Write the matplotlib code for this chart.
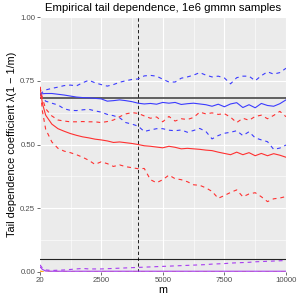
import matplotlib
matplotlib.use("Agg")
import matplotlib.pyplot as plt

plt.rcParams['font.family'] = ['Liberation Sans', 'DejaVu Sans']

m = [20, 120, 250, 500, 750, 1000, 1250, 1500, 1750, 2000, 2250, 2500, 2750, 3000,
     3250, 3500, 3750, 4000, 4250, 4500, 4750, 5000, 5250, 5500, 5750, 6000, 6250,
     6500, 6750, 7000, 7250, 7500, 7750, 8000, 8250, 8500, 8750, 9000, 9250, 9500,
     9750, 10000]

blue_upper = [0.697, 0.705, 0.714, 0.720, 0.725, 0.731, 0.733, 0.730, 0.742, 0.752,
              0.742, 0.735, 0.729, 0.735, 0.744, 0.750, 0.755, 0.757, 0.769, 0.771,
              0.768, 0.756, 0.745, 0.745, 0.760, 0.765, 0.772, 0.782, 0.772, 0.765,
              0.768, 0.761, 0.738, 0.762, 0.768, 0.768, 0.750, 0.770, 0.785, 0.776,
              0.782, 0.799]
blue_mid = [0.697, 0.699, 0.700, 0.700, 0.697, 0.694, 0.690, 0.686, 0.684, 0.683,
            0.681, 0.679, 0.670, 0.672, 0.675, 0.672, 0.668, 0.662, 0.659, 0.661,
            0.658, 0.665, 0.662, 0.665, 0.657, 0.660, 0.662, 0.659, 0.656, 0.650,
            0.658, 0.648, 0.659, 0.664, 0.645, 0.656, 0.644, 0.661, 0.653, 0.650,
            0.660, 0.675]
blue_lower = [0.697, 0.685, 0.670, 0.662, 0.655, 0.640, 0.634, 0.633, 0.636, 0.638,
              0.632, 0.627, 0.618, 0.613, 0.605, 0.586, 0.580, 0.572, 0.551, 0.557,
              0.562, 0.562, 0.556, 0.554, 0.557, 0.548, 0.555, 0.563, 0.551, 0.522,
              0.535, 0.544, 0.548, 0.554, 0.535, 0.550, 0.526, 0.518, 0.511, 0.481,
              0.486, 0.498]
red_upper = [0.725, 0.680, 0.640, 0.612, 0.596, 0.592, 0.589, 0.589, 0.590, 0.589,
             0.589, 0.586, 0.590, 0.596, 0.609, 0.620, 0.625, 0.622, 0.612, 0.603,
             0.608, 0.589, 0.610, 0.592, 0.601, 0.598, 0.606, 0.627, 0.620, 0.624,
             0.618, 0.621, 0.607, 0.586, 0.603, 0.595, 0.610, 0.615, 0.601, 0.614,
             0.630, 0.609]
red_mid = [0.725, 0.660, 0.615, 0.580, 0.562, 0.552, 0.543, 0.536, 0.530, 0.526,
           0.521, 0.518, 0.514, 0.508, 0.510, 0.507, 0.504, 0.500, 0.495, 0.493,
           0.490, 0.487, 0.493, 0.489, 0.483, 0.485, 0.483, 0.481, 0.478, 0.476,
           0.470, 0.465, 0.460, 0.470, 0.460, 0.468, 0.456, 0.465, 0.456, 0.464,
           0.458, 0.450]
red_lower = [0.725, 0.630, 0.560, 0.510, 0.485, 0.474, 0.468, 0.460, 0.450, 0.438,
             0.422, 0.432, 0.425, 0.414, 0.420, 0.413, 0.409, 0.405, 0.406, 0.362,
             0.350, 0.362, 0.380, 0.366, 0.362, 0.354, 0.342, 0.340, 0.330, 0.316,
             0.289, 0.300, 0.312, 0.322, 0.295, 0.306, 0.311, 0.295, 0.276, 0.287,
             0.290, 0.296]
purple_upper = [0.028, 0.015, 0.008, 0.006, 0.007, 0.008, 0.010, 0.012, 0.014, 0.012,
                0.012, 0.012, 0.013, 0.014, 0.015, 0.016, 0.017, 0.018, 0.019, 0.020,
                0.021, 0.022, 0.023, 0.024, 0.025, 0.026, 0.027, 0.028, 0.029, 0.031,
                0.032, 0.033, 0.035, 0.036, 0.037, 0.038, 0.040, 0.041, 0.042, 0.043,
                0.044, 0.045]
purple_mid = [0.020, 0.010, 0.004, 0.003, 0.003, 0.003, 0.003, 0.003, 0.003, 0.003,
              0.003, 0.003, 0.003, 0.003, 0.003, 0.003, 0.003, 0.003, 0.003, 0.003,
              0.003, 0.003, 0.003, 0.003, 0.003, 0.003, 0.003, 0.003, 0.003, 0.003,
              0.003, 0.003, 0.003, 0.003, 0.003, 0.003, 0.003, 0.003, 0.003, 0.003,
              0.003, 0.003]
orange_line = [0.004, 0.001, 0.000, 0.000, 0.000, 0.000, 0.000, 0.000, 0.000, 0.000,
               0.000, 0.000, 0.000, 0.000, 0.000, 0.000, 0.000, 0.000, 0.000, 0.000,
               0.000, 0.000, 0.000, 0.000, 0.000, 0.000, 0.000, 0.000, 0.000, 0.000,
               0.000, 0.000, 0.000, 0.000, 0.000, 0.000, 0.000, 0.000, 0.000, 0.000,
               0.000, 0.000]

true_high = 0.683
true_low = 0.05
m_split = 4000

xticks = [20, 2500, 5000, 7500, 10000]
yticks = [0.00, 0.25, 0.50, 0.75, 1.00]
ytick_labels = ["0.00", "0.25", "0.50", "0.75", "1.00"]

W = H = 301
fig = plt.figure(figsize=(W / 100, H / 100), dpi=100)
ax = fig.add_axes([40 / W, 29 / H, 246 / W, 255 / H])
ax.set_facecolor('#EBEBEB')
ax.set_xlim(20, 10000)
ax.set_ylim(0, 1)

# grid
for v in [1260, 3750, 6250, 8750]:
    ax.axvline(v, color='white', lw=0.4, zorder=0.5)
for v in [0.125, 0.375, 0.625, 0.875]:
    ax.axhline(v, color='white', lw=0.4, zorder=0.5)
for v in xticks:
    ax.axvline(v, color='white', lw=0.8, zorder=0.6)
for v in yticks:
    ax.axhline(v, color='white', lw=0.8, zorder=0.6)

ax.axhline(true_high, color='#555555', lw=1.3, zorder=2)
ax.axhline(true_low, color='#222222', lw=0.8, zorder=2)
ax.axvline(m_split, color='black', lw=0.6, ls=(0, (4, 3)), zorder=3)

blue = '#3b3bff'
red = '#ff3030'
purple = '#a73cf0'
dash = (0, (3.5, 3.5))
lw = 0.8
ax.plot(m, blue_upper, color=blue, lw=lw, ls=dash, zorder=4)
ax.plot(m, blue_mid, color=blue, lw=lw, zorder=4)
ax.plot(m, blue_lower, color=blue, lw=lw, ls=dash, zorder=4)
ax.plot(m, red_upper, color=red, lw=lw, ls=dash, zorder=4)
ax.plot(m, red_mid, color=red, lw=lw, zorder=4)
ax.plot(m, red_lower, color=red, lw=lw, ls=dash, zorder=4)
ax.plot(m, purple_upper, color=purple, lw=lw, ls=dash, zorder=4)
ax.plot(m, orange_line, color='#FFA500', lw=lw, ls=dash, zorder=4)
ax.plot(m, purple_mid, color=purple, lw=lw, zorder=4)

for s in ax.spines.values():
    s.set_visible(False)
ax.set_xticks(xticks)
ax.set_xticklabels([str(v) for v in xticks])
ax.set_yticks(yticks)
ax.set_yticklabels(ytick_labels)
ax.tick_params(axis='both', colors='#333333', length=2, width=0.5,
               labelsize=5.6, labelcolor='#4D4D4D', pad=1.5)

ax.set_xlabel('m', fontsize=7.8, labelpad=0.5)
ax.set_ylabel('Tail dependence coefficient λ(1 − 1/m)', fontsize=7.8, labelpad=2)
fig.text(163 / W, 1 - 8 / H, 'Empirical tail dependence, 1e6 gmmn samples',
         ha='center', va='center', fontsize=8.2)

fig.savefig('out.png', dpi=100)
